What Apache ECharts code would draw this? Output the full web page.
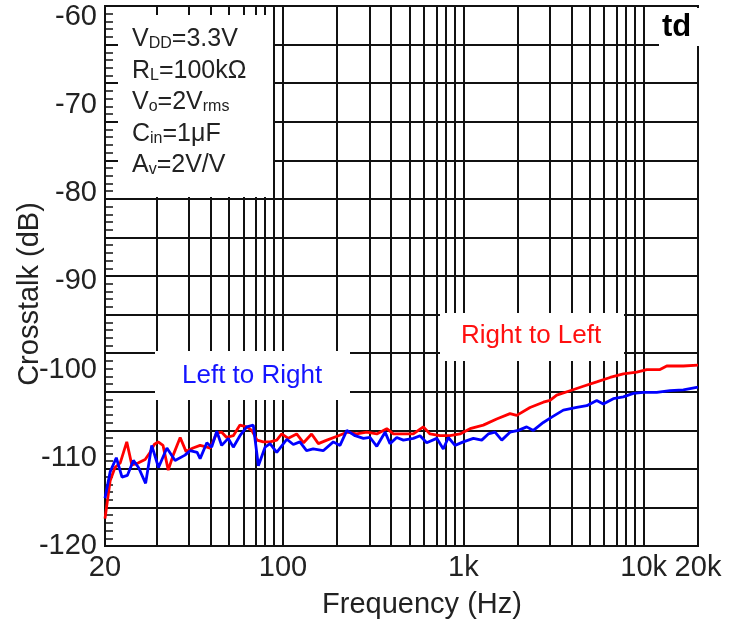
<!DOCTYPE html>
<html>
<head>
<meta charset="utf-8">
<style>
  html, body { margin: 0; padding: 0; background: #fff; }
  #chart { width: 741px; height: 626px; }
</style>
<script src="https://cdn.jsdelivr.net/npm/echarts@6/dist/echarts.min.js"></script>
</head>
<body>
<div id="chart"></div>
<script>
// Crosstalk vs. frequency for both channel directions.
const FONT = '"Liberation Sans", Arial, Helvetica, sans-serif';

const X_MIN_HZ = 10.3;     // left edge of the log frequency axis
const X_MAX_HZ = 20000;
const Y_MIN_DB = -120;
const Y_MAX_DB = -58.8;

const xTickLabels = ['20', '100', '1k', '10k', '20k'];
const xTickHz = [X_MIN_HZ, 100, 1000, 10000, 20000];
const yTickDb = [-120, -110, -100, -90, -80, -70, -60];

// vertical grid lines: 1..9 per decade
const gridHz = [20, 30, 40, 50, 60, 70, 80, 90, 100,
  200, 300, 400, 500, 600, 700, 800, 900, 1000,
  2000, 3000, 4000, 5000, 6000, 7000, 8000, 9000, 10000];
const gridRows = 14;   // horizontal grid divisions
const gridMinor = 5;   // minor ticks per division

const redHz = [10.3, 11.0, 11.7, 12.5, 13.6, 14.5, 15.7, 17.2, 18.3, 19.3, 20.3, 21.6, 23.1, 24.6, 26.9, 29.0,
  31.7, 34.7, 37.9, 39.4, 42.9, 45.7, 48.7, 53.0, 57.7, 62.9, 67.1, 71.8, 77.7, 84.7, 92.3, 98.3,
  107, 119, 130, 144, 157, 175, 203, 226, 256, 291, 331, 376, 409, 465, 528, 600, 653, 742, 843, 958,
  1089, 1290, 1530, 1814, 1976, 2342, 2776, 3022, 3293, 3903, 4626, 5489, 6506, 7708, 9146,
  10390, 12310, 13420, 16590, 20000];
const redDb = [-116.9, -112.6, -111.1, -110.6, -108.2, -110.8, -110.6, -110.2, -109.4, -108.5, -108.2, -108.6, -111.4, -109.7, -107.7, -109.3,
  -108.9, -108.6, -108.8, -108.9, -107.2, -107.1, -107.7, -107.5, -106.3, -106.5, -106.9, -108.0, -108.2, -108.2, -108.0, -107.3,
  -107.8, -107.3, -108.3, -107.3, -108.4, -108.0, -107.5, -107.1, -107.3, -107.1, -107.3, -106.7, -107.3, -107.3, -107.3, -106.5, -107.3, -107.5, -107.5, -107.3,
  -106.7, -106.3, -105.6, -105.0, -105.2, -104.3, -103.7, -103.5, -102.9, -102.4, -101.9, -101.4, -100.9, -100.5, -100.3,
  -100.0, -100.0, -99.6, -99.6, -99.5];

const blueHz = [10.3, 11.0, 11.9, 12.8, 13.7, 14.8, 15.8, 17.3, 18.7, 20.4, 22.7, 25.2, 28.6, 30.5, 33.4, 34.7,
  37.8, 40.2, 42.9, 45.7, 49.7, 53.0, 57.7, 62.9, 68.4, 73.0, 79.5, 84.7, 92.3,
  105, 114, 124, 135, 147, 167, 190, 207, 226, 251, 279, 304, 331, 368, 392, 427, 465, 528, 575, 626, 712, 774, 825, 899, 999,
  1136, 1264, 1375, 1498, 1632, 1814, 2017, 2245, 2443, 2776, 3090, 3583, 4252, 4830, 5489, 5970, 6781, 7708, 8755, 9950,
  11810, 13990, 16590, 20000];
const blueDb = [-114.6, -111.6, -110.0, -112.2, -112.0, -110.3, -111.1, -112.9, -108.6, -111.1, -108.9, -110.3, -109.7, -109.2, -109.4, -110.1,
  -108.3, -108.8, -107.0, -108.6, -107.8, -108.8, -107.5, -106.5, -106.3, -110.9, -108.8, -108.4, -109.4,
  -107.9, -108.5, -108.2, -109.2, -109.0, -109.2, -108.2, -108.6, -106.9, -107.5, -107.8, -107.7, -108.7, -107.1, -108.4, -107.7, -108.0, -107.8, -107.5, -108.3, -107.8, -109.0, -107.7, -108.6, -108.2,
  -107.8, -108.0, -107.3, -107.1, -108.0, -107.1, -106.9, -106.5, -106.9, -106.0, -105.4, -104.6, -104.3, -104.1, -103.5, -103.9, -103.3, -103.1, -102.7, -102.6,
  -102.6, -102.4, -102.3, -102.0];

const toPoints = (hz, db) => hz.map((f, i) => [Math.log10(f), db[i]]);
const GRID_COLOR = '#111';
const TEXT_COLOR = '#222';

function condLine(y, parts) {
  // parts: [main, sub, main, sub, ...]
  let txt = '';
  parts.forEach((p, i) => { if (p) txt += '{' + (i % 2 ? 's' : 'm') + '|' + p + '}'; });
  return {
    type: 'text', x: 132, y: y, z: 60, silent: true,
    style: {
      text: txt, align: 'left', verticalAlign: 'middle',
      rich: {
        m: { fontFamily: FONT, fontSize: 25, lineHeight: 30, fill: TEXT_COLOR, verticalAlign: 'bottom' },
        s: { fontFamily: FONT, fontSize: 16, lineHeight: 15, fill: TEXT_COLOR, verticalAlign: 'bottom' }
      }
    }
  };
}

const chart = echarts.init(document.getElementById('chart'), null, { renderer: 'canvas' });
chart.setOption({
  animation: false,
  backgroundColor: '#fff',
  textStyle: { fontFamily: FONT },
  grid: {
    left: 105, right: 43, top: 6, bottom: 80,
    show: true, borderColor: GRID_COLOR, borderWidth: 2, backgroundColor: 'transparent',
    outerBoundsMode: 'none'
  },
  xAxis: {
    type: 'value',
    min: Math.log10(X_MIN_HZ), max: Math.log10(X_MAX_HZ),
    axisLine: { show: false }, axisTick: { show: false }, splitLine: { show: false },
    axisLabel: {
      customValues: xTickHz.map(Math.log10),
      formatter: (v) => {
        const i = xTickHz.findIndex(f => Math.abs(Math.log10(f) - v) < 1e-6);
        return i >= 0 ? xTickLabels[i] : '';
      },
      fontSize: 29, color: TEXT_COLOR, margin: 7
    }
  },
  yAxis: [
    {
      type: 'value', min: Y_MIN_DB, max: Y_MAX_DB,
      axisLine: { show: false }, axisTick: { show: false }, splitLine: { show: false },
      axisLabel: { customValues: yTickDb, fontSize: 29, color: TEXT_COLOR, margin: 8 }
    },
    {
      type: 'value', min: 0, max: gridRows, interval: 1, position: 'left',
      axisLabel: { show: false },
      axisLine: { show: false },
      axisTick: { show: true, inside: true, length: 12, lineStyle: { color: GRID_COLOR, width: 2 } },
      minorTick: { show: true, splitNumber: gridMinor, length: 8, lineStyle: { color: GRID_COLOR, width: 1.5 } },
      splitLine: { show: true, lineStyle: { color: GRID_COLOR, width: 2 } }
    }
  ],
  series: [
    {
      name: 'grid', type: 'line', data: [], xAxisIndex: 0, yAxisIndex: 0, silent: true, z: 1,
      markLine: {
        silent: true, z: 1, animation: false,
        symbol: ['none', 'none'],
        label: { show: false },
        emphasis: { disabled: true },
        lineStyle: { color: GRID_COLOR, width: 2, type: 'solid' },
        data: gridHz.map(f => ({ xAxis: Math.log10(f) }))
      }
    },
    {
      name: 'Right to Left', type: 'line', data: toPoints(redHz, redDb),
      xAxisIndex: 0, yAxisIndex: 0, symbol: 'none', silent: true, z: 3,
      lineStyle: { color: '#ff0000', width: 2.8 }
    },
    {
      name: 'Left to Right', type: 'line', data: toPoints(blueHz, blueDb),
      xAxisIndex: 0, yAxisIndex: 0, symbol: 'none', silent: true, z: 4,
      lineStyle: { color: '#0000ff', width: 2.8 }
    }
  ],
  graphic: [
    // white panels behind the annotations
    { type: 'rect', z: 50, silent: true, shape: { x: 118, y: 15, width: 155, height: 182 }, style: { fill: '#fff' } },
    { type: 'rect', z: 50, silent: true, shape: { x: 155, y: 351, width: 195, height: 49 }, style: { fill: '#fff' } },
    { type: 'rect', z: 50, silent: true, shape: { x: 440, y: 313, width: 184, height: 48 }, style: { fill: '#fff' } },
    { type: 'rect', z: 50, silent: true, shape: { x: 659, y: 8, width: 60, height: 38 }, style: { fill: '#fff' } },

    condLine(37, ['V', 'DD', '=3.3V']),
    condLine(68.5, ['R', 'L', '=100kΩ']),
    condLine(100, ['V', 'o', '=2V', 'rms']),
    condLine(131.5, ['C', 'in', '=1μF']),
    condLine(163, ['A', 'v', '=2V/V']),

    { type: 'text', x: 662, y: 27, z: 60, silent: true,
      style: { text: 'td', fontFamily: FONT, fontSize: 31, fontWeight: 'bold', fill: '#000', align: 'left', verticalAlign: 'middle' } },
    { type: 'text', x: 461, y: 336, z: 60, silent: true,
      style: { text: 'Right to Left', fontFamily: FONT, fontSize: 26, fill: '#ff1010', align: 'left', verticalAlign: 'middle' } },
    { type: 'text', x: 182, y: 376, z: 60, silent: true,
      style: { text: 'Left to Right', fontFamily: FONT, fontSize: 26, fill: '#1414ff', align: 'left', verticalAlign: 'middle' } },

    { type: 'text', x: 422, y: 605, z: 60, silent: true,
      style: { text: 'Frequency (Hz)', fontFamily: FONT, fontSize: 29, fill: TEXT_COLOR, align: 'center', verticalAlign: 'middle' } },
    { type: 'text', x: 30, y: 294, rotation: Math.PI / 2, z: 60, silent: true,
      style: { text: 'Crosstalk (dB)', fontFamily: FONT, fontSize: 29, fill: TEXT_COLOR, align: 'center', verticalAlign: 'middle' } }
  ]
});
</script>
</body>
</html>
